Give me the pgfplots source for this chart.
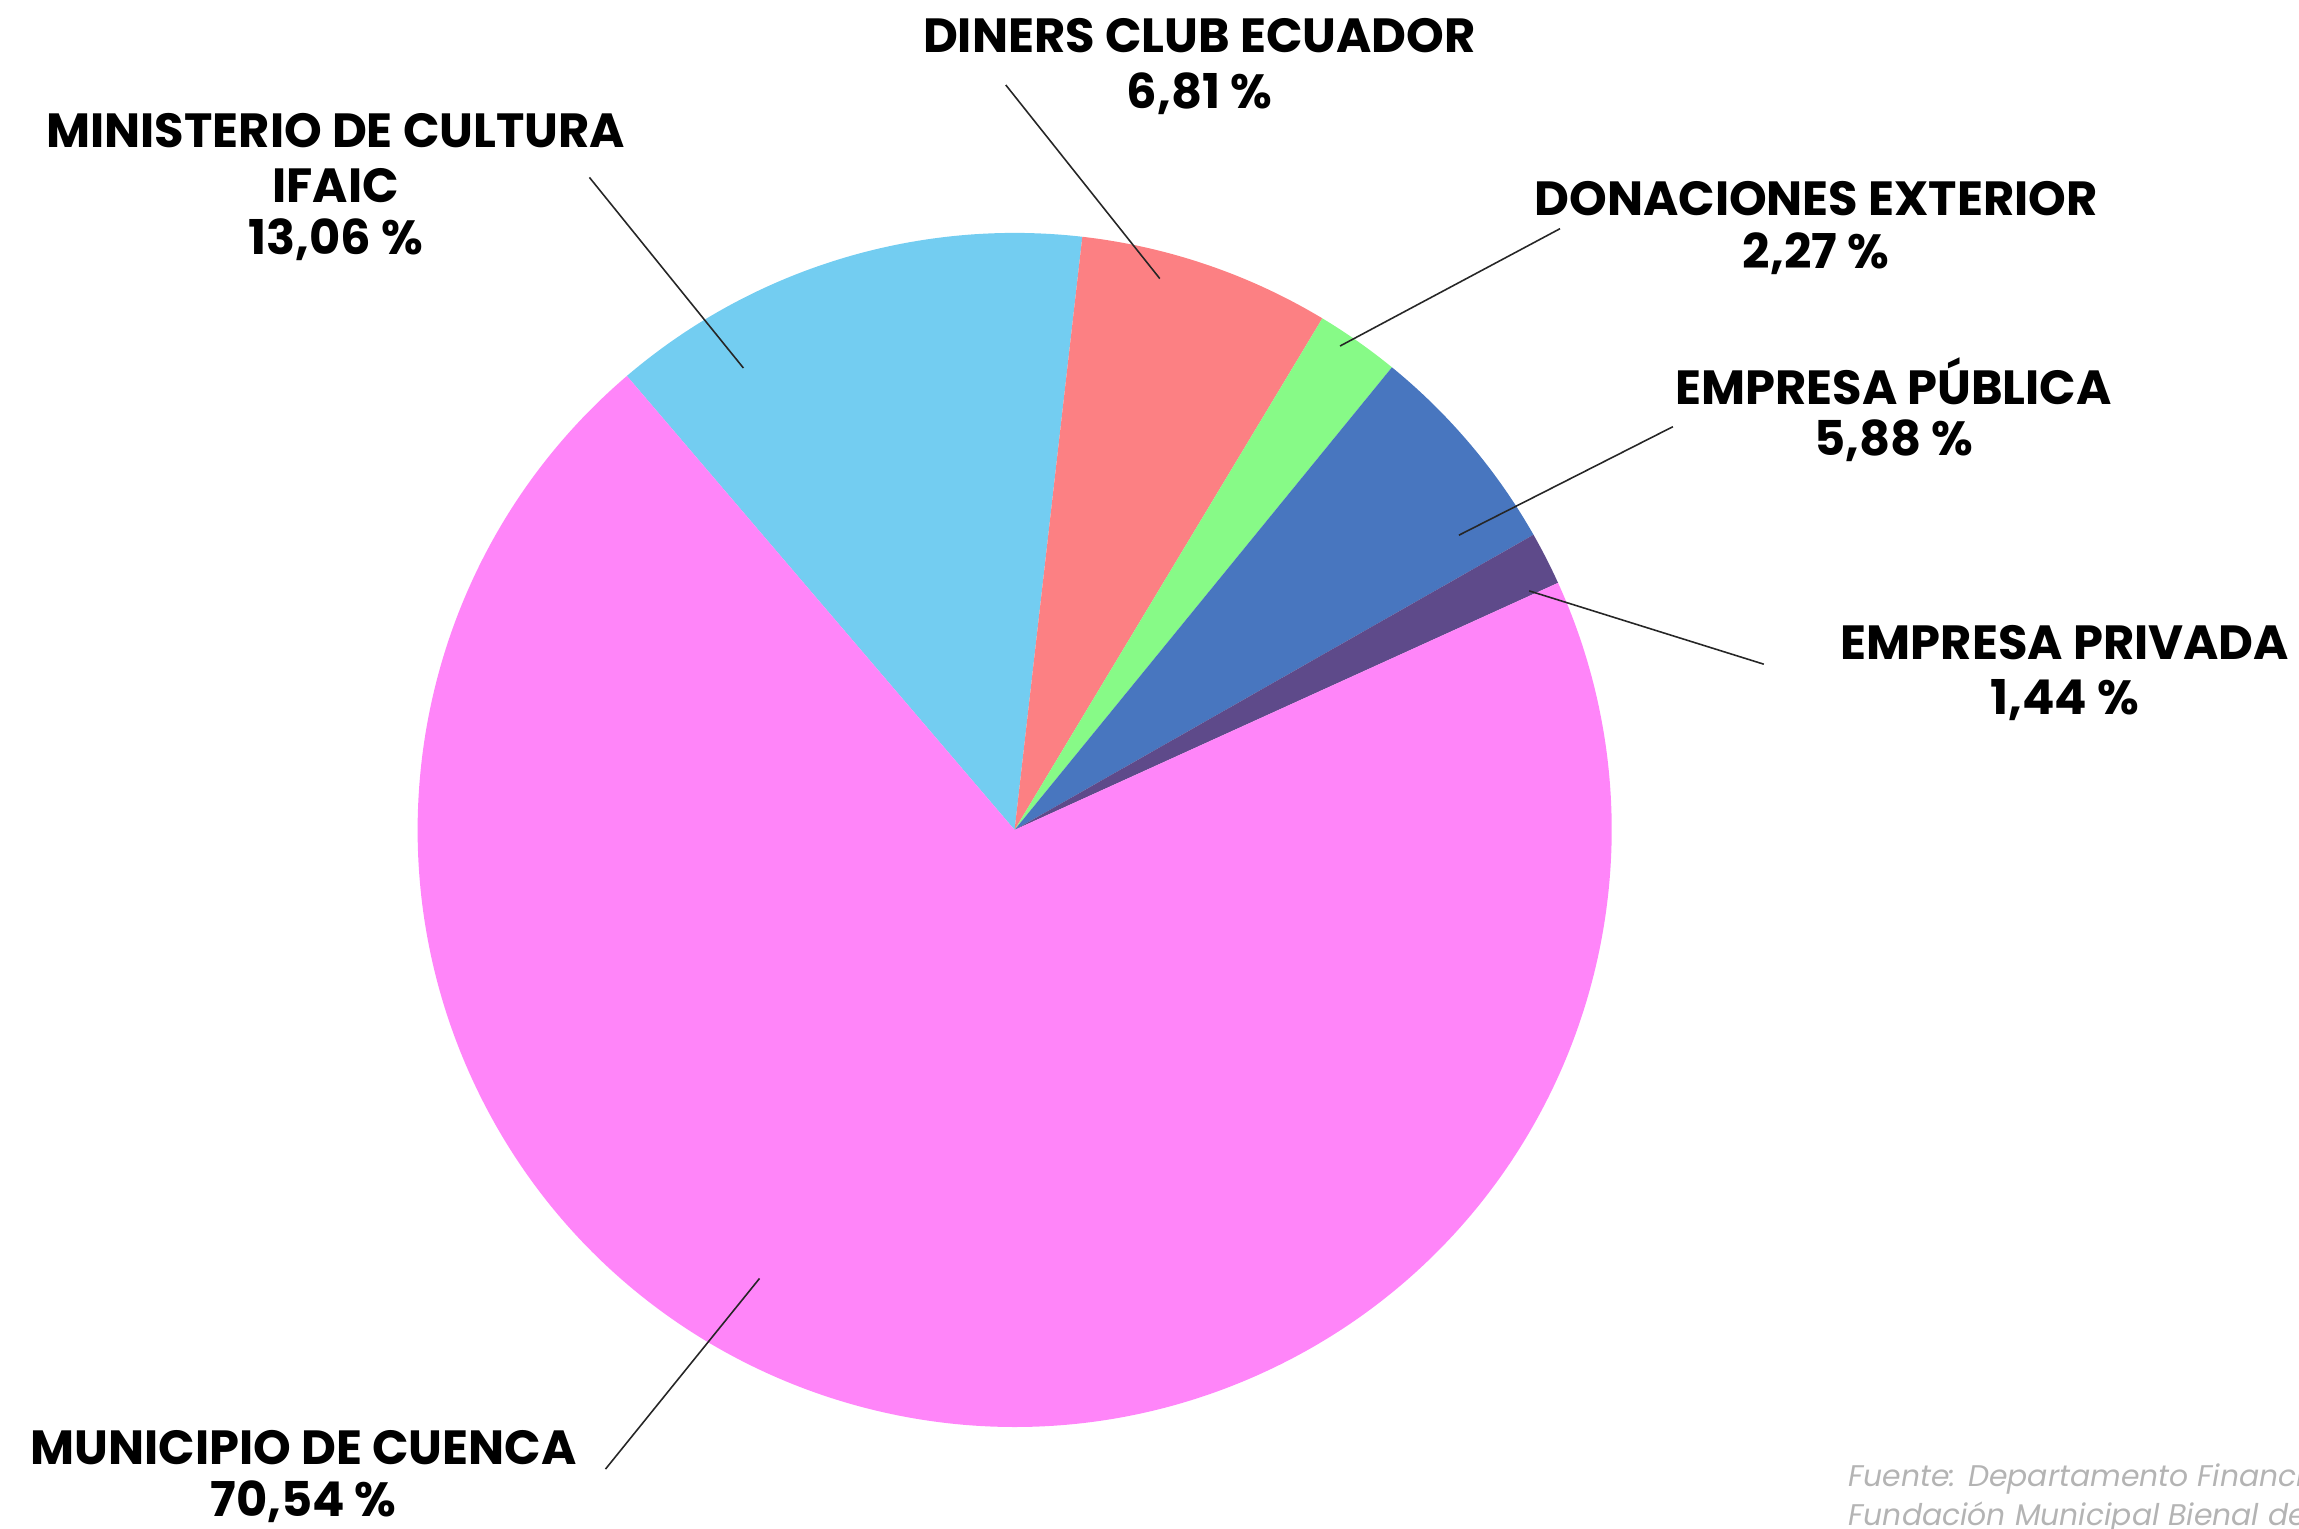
\documentclass[border=0pt]{standalone}
\usepackage{pgfplots}
\pgfplotsset{compat=1.18}
\usepackage{fontspec}
\setmainfont{Poppins}

\definecolor{cMun}{HTML}{FF85F9}
\definecolor{cMin}{HTML}{73CDF1}
\definecolor{cDin}{HTML}{FC8083}
\definecolor{cDon}{HTML}{87FA87}
\definecolor{cPub}{HTML}{4876BF}
\definecolor{cPri}{HTML}{5E4A8A}
\definecolor{cFoot}{HTML}{B4B4B4}

% pie centre and radius, in picture pixels (1 px = 0.1 mm)
\def\cx{1014.6}
\def\cy{699.1}
\def\rr{597}

% wedge: start angle, end angle, colour
\newcommand{\slice}[3]{%
  \fill[#3] (axis cs:\cx,\cy) -- (axis cs:{\cx+\rr*cos(#1)},{\cy+\rr*sin(#1)})
    arc[start angle=#1, end angle=#2, radius=59.7mm] -- cycle;}
\newcommand{\lab}[3]{%
  \node[anchor=base, inner sep=0pt, font=\bfseries\fontsize{13.65}{15}\selectfont]
    at (axis cs:#1,#2) {#3};}

\begin{document}
\begin{tikzpicture}
\path[use as bounding box, clip] (0,0) rectangle (229.9mm,152.9mm);

% shares in percent, clockwise from the top-left edge
\pgfmathsetmacro{\aA}{130.5}
\pgfmathsetmacro{\aB}{\aA-13.06*3.6}  % Ministerio de Cultura IFAIC
\pgfmathsetmacro{\aC}{\aB-6.81*3.6}   % Diners Club Ecuador
\pgfmathsetmacro{\aD}{\aC-2.27*3.6}   % Donaciones exterior
\pgfmathsetmacro{\aE}{\aD-5.88*3.6}   % Empresa publica
\pgfmathsetmacro{\aF}{\aE-1.44*3.6}   % Empresa privada
\pgfmathsetmacro{\aG}{\aF-70.54*3.6}  % Municipio de Cuenca

\begin{axis}[
    at={(0,0)}, anchor=south west,
    width=229.9mm, height=152.9mm, scale only axis,
    xmin=0, xmax=2299, ymin=0, ymax=1529,
    hide axis, clip=false,
  ]
  \slice{\aA}{\aB}{cMin}
  \slice{\aB}{\aC}{cDin}
  \slice{\aC}{\aD}{cDon}
  \slice{\aD}{\aE}{cPub}
  \slice{\aE}{\aF}{cPri}
  \slice{\aF}{\aG}{cMun}

  % leader lines
  \draw[black!85, line width=0.45pt] (axis cs:1005.8,1444.0) -- (axis cs:1159.8,1250.4);
  \draw[black!85, line width=0.45pt] (axis cs:589.4,1351.6) -- (axis cs:743.4,1161.0);
  \draw[black!85, line width=0.45pt] (axis cs:1560.0,1300.3) -- (axis cs:1340.1,1183.0);
  \draw[black!85, line width=0.45pt] (axis cs:1672.9,1102.3) -- (axis cs:1458.9,993.8);
  \draw[black!85, line width=0.45pt] (axis cs:1763.8,864.8) -- (axis cs:1529.2,938.1);
  \draw[black!85, line width=0.45pt] (axis cs:605.5,59.9) -- (axis cs:759.5,250.5);

  % labels
  \lab{1199.4}{1476.3}{DINERS CLUB ECUADOR}
  \lab{1199.4}{1420.6}{6,81 \%}
  \lab{335.8}{1381}{MINISTERIO DE CULTURA}
  \lab{335.8}{1326.8}{IFAIC}
  \lab{335.8}{1274}{13,06 \%}
  \lab{1816}{1313.6}{DONACIONES EXTERIOR}
  \lab{1816}{1260.8}{2,27 \%}
  \lab{1893.6}{1124.5}{EMPRESA PÚBLICA}
  \lab{1893.6}{1073.1}{5,88 \%}
  \lab{2065}{869}{EMPRESA PRIVADA}
  \lab{2065}{814}{1,44 \%}
  \lab{303.5}{64.4}{MUNICIPIO DE CUENCA}
  \lab{303.5}{12}{70,54 \%}

  % source note, cut by the right edge as in the original
  \node[anchor=base west, inner sep=0pt, text=cFoot, font=\itshape\fontsize{8.5}{10}\selectfont]
    at (axis cs:1848,42) {Fuente: Departamento Financiero};
  \node[anchor=base west, inner sep=0pt, text=cFoot, font=\itshape\fontsize{8.5}{10}\selectfont]
    at (axis cs:1848,3) {Fundación Municipal Bienal de Cuenca};
\end{axis}
\end{tikzpicture}
\end{document}
